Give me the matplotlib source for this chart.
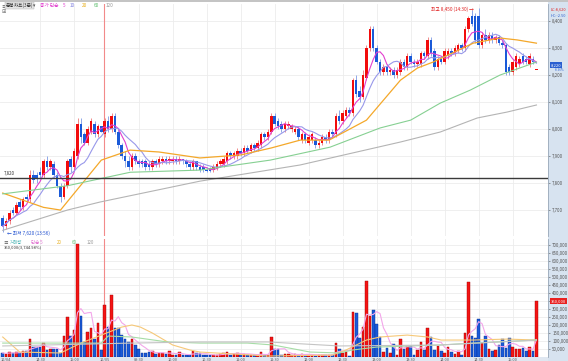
import numpy as np
import pandas as pd
import matplotlib
matplotlib.use('Agg')
import matplotlib.pyplot as plt
from matplotlib.patches import Rectangle

plt.rcParams['font.family'] = ['Noto Sans CJK KR', 'DejaVu Sans']

# 3분봉 OHLC (bars 0-29 = previous day, 30- = today)
opens = [7670, 7640, 7660, 7700, 7690, 7730, 7710, 7750, 7740, 7830,
         7830, 7840, 7830, 7880, 7860, 7870, 7830, 7790, 7750, 7790,
         7890, 7860, 7900, 8020, 7980, 7950, 7990, 8020, 7980, 8010,
         7980, 8030, 8000, 8050, 7990, 7940, 7900, 7880, 7860, 7900,
         7880, 7880, 7880, 7870, 7860, 7880, 7870, 7880, 7890, 7880,
         7880, 7890, 7880, 7890, 7880, 7870, 7860, 7880, 7860, 7860,
         7850, 7855, 7850, 7860, 7870, 7870, 7880, 7910, 7900, 7900,
         7920, 7910, 7930, 7920, 7940, 7930, 7940, 7980, 7970, 7990,
         8050, 8030, 8020, 8000, 8010, 8000, 7990, 8000, 7960, 7980,
         7950, 7960, 7960, 7940, 7950, 7970, 7960, 7990, 7980, 8050,
         8030, 8050, 8070, 8060, 8180, 8140, 8120, 8190, 8300, 8370,
         8300, 8250, 8210, 8230, 8210, 8220, 8200, 8210, 8250, 8230,
         8270, 8250, 8240, 8240, 8280, 8270, 8330, 8290, 8230, 8260,
         8250, 8270, 8290, 8280, 8290, 8310, 8300, 8370, 8420, 8420,
         8420, 8310, 8350, 8330, 8350, 8330, 8340, 8320, 8310, 8230,
         8210, 8230, 8240, 8270, 8260, 8240, 8260, 8220]
highs = [7680, 7670, 7700, 7710, 7730, 7740, 7750, 7760, 7850, 7850,
         7840, 7860, 7890, 7900, 7890, 7880, 7840, 7800, 7800, 7890,
         7900, 7930, 8040, 8040, 7990, 8010, 8040, 8030, 8020, 8010,
         8040, 8050, 8060, 8060, 8000, 7950, 7920, 7900, 7910, 7910,
         7890, 7890, 7890, 7880, 7890, 7890, 7900, 7900, 7900, 7900,
         7900, 7900, 7900, 7890, 7890, 7880, 7890, 7880, 7870, 7870,
         7860, 7860, 7870, 7880, 7890, 7900, 7920, 7920, 7920, 7930,
         7930, 7940, 7940, 7950, 7950, 7960, 7990, 7990, 8000, 8060,
         8060, 8040, 8030, 8030, 8030, 8020, 8010, 8010, 7990, 7990,
         7980, 7990, 7970, 7960, 7980, 7980, 8000, 8000, 8060, 8070,
         8070, 8080, 8080, 8190, 8200, 8160, 8220, 8310, 8380, 8380,
         8310, 8260, 8240, 8240, 8230, 8230, 8230, 8260, 8260, 8280,
         8280, 8260, 8260, 8290, 8290, 8340, 8340, 8300, 8270, 8270,
         8300, 8300, 8300, 8310, 8320, 8320, 8380, 8420, 8440, 8430,
         8450, 8360, 8370, 8360, 8360, 8350, 8350, 8330, 8320, 8240,
         8260, 8280, 8270, 8280, 8270, 8280, 8270, 8220]
lows = [7620, 7630, 7650, 7680, 7680, 7700, 7700, 7730, 7730, 7800,
        7800, 7820, 7820, 7850, 7850, 7820, 7780, 7730, 7740, 7780,
        7840, 7850, 7890, 7950, 7940, 7940, 7980, 7970, 7970, 7990,
        7970, 7990, 7990, 7980, 7930, 7890, 7860, 7850, 7850, 7870,
        7860, 7860, 7850, 7850, 7850, 7860, 7860, 7870, 7870, 7870,
        7870, 7870, 7870, 7870, 7860, 7850, 7850, 7850, 7840, 7840,
        7840, 7840, 7840, 7850, 7860, 7860, 7870, 7890, 7890, 7890,
        7900, 7900, 7910, 7910, 7920, 7920, 7930, 7960, 7960, 7980,
        8010, 8000, 7990, 7990, 8000, 7990, 7980, 7960, 7950, 7950,
        7940, 7950, 7930, 7930, 7940, 7950, 7950, 7970, 7970, 8020,
        8020, 8040, 8050, 8050, 8120, 8100, 8110, 8180, 8290, 8290,
        8240, 8200, 8200, 8200, 8200, 8190, 8190, 8200, 8220, 8220,
        8240, 8230, 8230, 8230, 8260, 8260, 8270, 8220, 8220, 8240,
        8240, 8260, 8270, 8270, 8280, 8290, 8290, 8360, 8380, 8320,
        8300, 8300, 8320, 8320, 8320, 8320, 8310, 8300, 8200, 8200,
        8200, 8220, 8230, 8240, 8240, 8230, 8240, 8220]
closes = [7640, 7660, 7690, 7690, 7720, 7710, 7740, 7740, 7830, 7810,
          7820, 7830, 7880, 7860, 7880, 7830, 7790, 7750, 7790, 7880,
          7860, 7920, 8020, 7970, 7950, 8000, 8030, 7980, 8010, 7990,
          8030, 8000, 8050, 7990, 7940, 7900, 7880, 7860, 7900, 7880,
          7870, 7870, 7860, 7860, 7880, 7870, 7890, 7890, 7880, 7890,
          7890, 7880, 7890, 7880, 7870, 7860, 7880, 7860, 7850, 7850,
          7845, 7845, 7860, 7870, 7880, 7890, 7910, 7900, 7910, 7920,
          7910, 7930, 7920, 7940, 7930, 7950, 7980, 7970, 7990, 8050,
          8020, 8010, 8000, 8020, 8020, 8010, 8000, 7970, 7980, 7960,
          7970, 7980, 7940, 7950, 7970, 7960, 7990, 7980, 8050, 8030,
          8060, 8070, 8060, 8180, 8130, 8120, 8200, 8300, 8370, 8300,
          8250, 8210, 8230, 8210, 8220, 8200, 8220, 8250, 8230, 8270,
          8250, 8240, 8250, 8280, 8270, 8330, 8280, 8230, 8260, 8250,
          8290, 8290, 8280, 8300, 8310, 8300, 8370, 8410, 8390, 8330,
          8310, 8350, 8330, 8350, 8330, 8340, 8320, 8310, 8210, 8210,
          8250, 8270, 8260, 8250, 8250, 8270, 8250, 8220]
volumes = [25, 20, 30, 25, 30, 27, 35, 35, 112, 62,
           62, 65, 87, 45, 50, 50, 50, 25, 131, 250,
           131, 170, 706, 256, 94, 156, 181, 112, 212, 44,
           325, 187, 387, 181, 180, 137, 112, 94, 112, 75,
           50, 25, 25, 30, 35, 20, 25, 22, 20, 35,
           15, 15, 30, 10, 10, 10, 35, 25, 22, 10,
           12, 12, 12, 12, 20, 25, 30, 15, 20, 25,
           20, 18, 15, 15, 13, 12, 30, 10, 15, 125,
           50, 50, 15, 18, 18, 10, 20, 15, 20, 15,
           15, 15, 8, 12, 12, 12, 15, 10, 87, 50,
           25, 30, 8, 281, 275, 119, 187, 475, 256, 294,
           206, 125, 30, 56, 25, 81, 15, 112, 50, 67,
           67, 15, 45, 94, 45, 181, 125, 45, 69, 37,
           25, 62, 30, 20, 37, 15, 150, 469, 131, 119,
           237, 87, 131, 50, 40, 45, 75, 112, 56, 119,
           62, 50, 47, 56, 37, 62, 40, 350]
volumes = [v * 1000 for v in volumes]

# moving averages (bar index, value)
ma20_idx = [0, 12, 17, 29, 37.5, 46, 58, 70, 79, 87.5, 96, 107, 112, 117, 122, 126.6, 138.4, 146.3, 151.3, 157]
ma20_val = [7763, 7710, 7700, 7885, 7922, 7915, 7893, 7904, 7930, 7959, 7959, 8033, 8107, 8181, 8226, 8248, 8318, 8337, 8330, 8318]
ma60_idx = [0, 19, 37.5, 58, 78.7, 96.3, 111, 120, 128.7, 137.5, 146.3, 157]
ma60_val = [7760, 7790, 7840, 7848, 7885, 7933, 8004, 8033, 8096, 8144, 8200, 8248]
ma120_idx = [0, 19, 28.7, 58, 87.5, 117, 128.7, 139.6, 148.4, 157]
ma120_val = [7625, 7700, 7730, 7807, 7867, 7952, 7989, 8041, 8063, 8089]

vma20_idx = [0, 5, 17, 23, 29, 35, 38, 40.5, 44, 50, 55, 58, 78, 97, 101, 107, 111, 119, 125, 129, 138.4, 148.4, 157]
vma20_val = [125, 31, 25, 87, 137, 187, 200, 187, 150, 75, 44, 31, 6, 12, 44, 106, 125, 137, 125, 106, 106, 112, 106]
vma60_idx = [0, 29, 31, 38, 48.4, 58, 72, 79.6, 90.4, 99, 103, 110, 128.7, 138.4, 157]
vma60_val = [87, 87, 131, 125, 94, 87, 87, 75, 31, 25, 44, 62, 75, 87, 106]
vma120_idx = [0, 38, 58, 78, 99, 128.7, 157]
vma120_val = [69, 87, 94, 94, 69, 75, 106]
vma20_val = [v * 1000 for v in vma20_val]
vma60_val = [v * 1000 for v in vma60_val]
vma120_val = [v * 1000 for v in vma120_val]

ref_price = 7820
day2_start = 30
grid_bars = [11, 21, 40, 50, 60, 70, 80, 90, 100, 110, 120, 130, 140, 150]
time_ticks = [1, 11, 21, 30, 40, 50, 60, 70, 80, 90, 100, 110, 120, 130, 140, 150]
time_labels = ['10/04', '14:30', '15:00', '10/05', '09:30', '10:00', '10:30', '11:00',
               '11:30', '12:00', '12:30', '13:00', '13:30', '14:00', '14:30', '15:00']

RED = '#f20c0c'
BLUE = '#1a5ad8'

n = len(closes)
x = np.arange(n)
o = np.array(opens, float)
h = np.array(highs, float)
l = np.array(lows, float)
c = np.array(closes, float)
up = c >= o
cols = np.where(up, RED, BLUE)
wick_cols = np.where(up, '#f08a8a', '#8fa8e8')

W, H = 568, 361
fig = plt.figure(figsize=(W / 100, H / 100), dpi=100)
fig.patch.set_facecolor('white')

# right scale strip and bottom strip
fig.add_artist(Rectangle((548 / W, 0), 20 / W, 1, transform=fig.transFigure,
                         facecolor='#d7e3f0', edgecolor='none', zorder=0))
fig.add_artist(Rectangle((0, 0), 548 / W, 4 / H, transform=fig.transFigure,
                         facecolor='#dfe7f1', edgecolor='none', zorder=0))
fig.add_artist(Rectangle((0, 1 - 2 / H), 1, 2 / H, transform=fig.transFigure,
                         facecolor='#c4c4c4', edgecolor='none', zorder=5))

axp = fig.add_axes([0, 1 - 236 / H, 548 / W, 232 / H])
axv = fig.add_axes([0, 4 / H, 548 / W, 118 / H])

for ax in (axp, axv):
    ax.set_xlim(-0.8, 160.4)
    for s in ax.spines.values():
        s.set_visible(False)
    ax.spines['right'].set_visible(True)
    ax.spines['right'].set_color('#9aa8b8')
    ax.spines['right'].set_linewidth(0.6)
    for g in grid_bars:
        ax.axvline(g, color='#ececec', lw=0.6, zorder=0)
    ax.axvline(day2_start - 0.15, color='#f28a8a', lw=0.8, zorder=1)
    ax.yaxis.tick_right()
    ax.tick_params(axis='y', labelsize=3.2, length=1.5, width=0.4, pad=1.5,
                   colors='#555555')

# ---- price panel
axp.set_ylim(7604, 8463)
yt = np.arange(7700, 8401, 100)
axp.set_yticks(yt)
axp.set_yticklabels([f'{v:,}' for v in yt])
for v in yt:
    axp.axhline(v, color='#ececec', lw=0.6, zorder=0)
axp.set_xticks([])

axp.vlines(x, l, h, colors=wick_cols, lw=0.7, zorder=2)
body = np.maximum(np.abs(c - o), 2)
axp.bar(x, body, bottom=np.minimum(o, c), width=0.72, color=cols, zorder=3, linewidth=0)

cs = pd.Series(c)
axp.plot(x, cs.rolling(5, min_periods=1).mean(), color='#e23fcf', lw=0.8, zorder=4)
axp.plot(x, cs.rolling(10, min_periods=1).mean(), color='#9898ea', lw=0.8, zorder=4)
axp.plot(ma20_idx, ma20_val, color='#f4a82a', lw=0.9, zorder=4)
axp.plot(ma60_idx, ma60_val, color='#86d092', lw=0.8, zorder=4)
axp.plot(ma120_idx, ma120_val, color='#b4b4b4', lw=0.8, zorder=4)
axp.axhline(ref_price, color='#3a3a3a', lw=1.0, zorder=4)
axp.text(0.3, ref_price + 6, f'{ref_price:,}', fontsize=3.2, color='#333333', va='bottom')

hi = int(np.argmax(h))
lo = int(np.argmin(l))
axp.text(hi - 1.5, h[hi] - 8, f'최고 {int(h[hi]):,} (14:30) →', fontsize=3.4,
         color='#e02020', ha='right', va='center')
axp.text(lo + 1.2, l[lo] - 6, f'← 최저 {int(l[lo]):,} (13:56)', fontsize=3.4,
         color='#2050d0', ha='left', va='center')

# legend line
fig.text(1 / W, 1 - 8 / H, '≡', fontsize=3.6, color='#555555', va='bottom')
fig.text(6 / W, 1 - 8 / H, '분봉차트(3분)', fontsize=3.4, color='#333333', va='bottom',
         bbox=dict(boxstyle='square,pad=0.15', fc='#e4e4e4', ec='#b0b0b0', lw=0.3))
legend_items = [('▾', '#555555'), ('종가 단순', '#e23fcf'), ('5', '#e23fcf'), ('10', '#8080e0'),
                ('20', '#e8b020'), ('60', '#60c070'), ('120', '#999999')]
xx = 33
for t, col in legend_items:
    fig.text(xx / W, 1 - 8 / H, t, fontsize=3.4, color=col, va='bottom')
    xx += 4.5 * len(t) + 3 if t != '종가 단순' else 22
fig.text(2 / W, 1 - 14 / H, '⊞', fontsize=3.6, color='#666666', va='bottom')

# right side labels for price
pct = (c[-1] - c[-2]) / c[-2] * 100
ypos = (c[-1] - 7604) / (8463 - 7604)
axp.text(1.005, ypos + 0.02, f'{int(c[-1]):,}', transform=axp.transAxes,
         fontsize=3.0, color='white', va='center', ha='left', zorder=6,
         bbox=dict(boxstyle='square,pad=0.15', fc='#2a5fd0', ec='none'))
axp.text(1.012, ypos, f'{pct:.2f}%', transform=axp.transAxes,
         fontsize=2.2, color='#2a5fd0', va='center', ha='left')
axp.text(1.005, 0.985, 'LC:8,620', transform=axp.transAxes, fontsize=2.8, color='#e02020', va='top')
axp.text(1.005, 0.958, 'HC:-2.50', transform=axp.transAxes, fontsize=2.8, color='#2a5fd0', va='top')

# ---- volume panel
axv.set_ylim(0, 737500)
vt = np.arange(50000, 700001, 50000)
axv.set_yticks(vt)
# the current-volume box covers the tick label it sits on
axv.set_yticklabels(['' if abs(v - volumes[-1]) < 25000 else f'{v:,}' for v in vt])
for v in vt:
    axv.axhline(v, color='#ececec', lw=0.6, zorder=0)
vcols = np.where(up, '#f41414', '#1a5ad8')
vedge = np.where(up, '#a00000', '#0a2f90')
axv.bar(x, volumes, width=0.78, color=vcols, edgecolor=vedge, linewidth=0.3, zorder=3)
vs = pd.Series(volumes, dtype=float)
axv.plot(x, vs.rolling(5, min_periods=1).mean(), color='#f3a6ea', lw=0.8, zorder=4)
axv.plot(vma20_idx, vma20_val, color='#f6c878', lw=0.8, zorder=4)
axv.plot(vma60_idx, vma60_val, color='#a6dca6', lw=0.8, zorder=4)
axv.plot(vma120_idx, vma120_val, color='#c4c4c4', lw=0.8, zorder=4)

axv.set_xticks(time_ticks)
axv.set_xticklabels(time_labels)
axv.tick_params(axis='x', labelsize=2.8, length=0, pad=0.6, colors='#555555')

axv.text(0.3, 733000, '≡', fontsize=3.4, color='#555555', va='top')
vleg = [('거래량', '#40b0b0'), ('단순 5', '#e070d0'), ('20', '#e8b020'), ('60', '#60c070'), ('120', '#999999')]
xx = 2.2
for t, col in vleg:
    axv.text(xx, 733000, t, fontsize=3.2, color=col, va='top')
    xx += 1.6 * len(t) + 1.2
axv.text(0.3, 700000, f'{volumes[-1]:,}(3,744.98%)', fontsize=3.0, color='#333333', va='top')
axv.text(1.005, volumes[-1] / 737500, f'{volumes[-1]:,}', transform=axv.transAxes,
         fontsize=3.0, color='white', va='center', ha='left', zorder=6,
         bbox=dict(boxstyle='square,pad=0.2', fc='#e82020', ec='none'))

fig.savefig('out.png', dpi=100, facecolor='white')
